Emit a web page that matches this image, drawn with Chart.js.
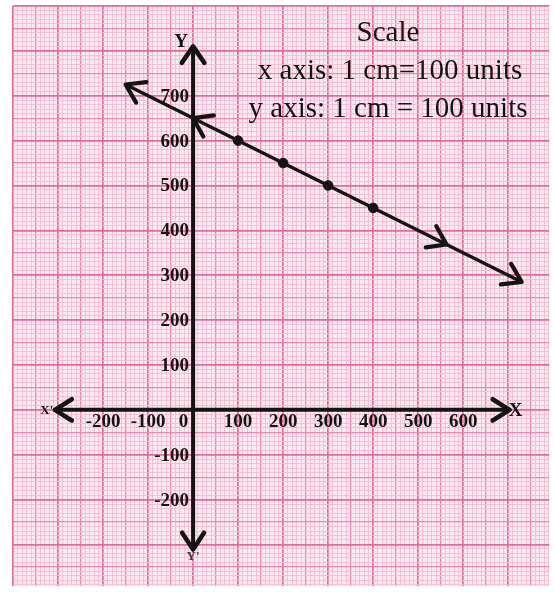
<!DOCTYPE html>
<html>
<head>
<meta charset="utf-8">
<script src="https://cdn.jsdelivr.net/npm/chart.js@4/dist/chart.umd.min.js"></script>
<style>
  html, body { margin: 0; padding: 0; background: #ffffff; overflow: hidden; }
  canvas { display: block; }
</style>
</head>
<body>
<canvas id="c" width="555" height="592"></canvas>
<script>
// ---- data ----
const pointX = [100, 200, 300, 400];
const pointY = [600, 550, 500, 450];
const lineX = [-150, 730];
const lineY = [725, 285];
const midArrowX = [0, 563];
const midArrowY = [650, 368.5];
const midArrowDir = [-1, 1];
const xTickLabels = [-200, -100, 100, 200, 300, 400, 500, 600];
const yTickLabels = [700, 600, 500, 400, 300, 200, 100, -100, -200];
const xAxisEnds = [-307, 703];
const yAxisEnds = [-311, 810];
const xRange = [-400, 791];
const yRange = [-393, 900];
const gridStep = 10;
const scaleText = ["Scale", "x axis: 1 cm=100 units", "y axis: 1 cm = 100 units"];

const SERIF = '"Liberation Serif", "Times New Roman", serif';
const INK = '#141414';

function gridColor(ctx) {
  const v = Math.round(ctx.tick.value);
  if (v % 100 === 0) return '#e8699a';
  if (v % 50 === 0) return '#ee88ae';
  return '#f5bcd1';
}
function gridWidth(ctx) {
  const v = Math.round(ctx.tick.value);
  if (v % 100 === 0) return 1.7;
  if (v % 50 === 0) return 1.3;
  return 0.9;
}
function buildTicks(scale, lo, hi) {
  const t = [];
  const start = Math.ceil(lo / gridStep) * gridStep;
  for (let v = start; v <= hi; v += gridStep) t.push({ value: v });
  scale.ticks = t;
}

function chevron(ctx, tx, ty, ang, len, half) {
  ctx.beginPath();
  ctx.moveTo(tx - len * Math.cos(ang - half), ty - len * Math.sin(ang - half));
  ctx.lineTo(tx, ty);
  ctx.lineTo(tx - len * Math.cos(ang + half), ty - len * Math.sin(ang + half));
  ctx.stroke();
}

const paperPlugin = {
  id: 'paper',
  beforeDraw(chart) {
    const { ctx, chartArea: a } = chart;
    ctx.save();
    ctx.fillStyle = '#ffffff';
    ctx.fillRect(0, 0, chart.width, chart.height);
    ctx.fillStyle = '#fce9f1';
    ctx.fillRect(a.left, a.top, a.right - a.left, a.bottom - a.top);
    ctx.restore();
  },
  beforeDatasetsDraw(chart) {
    const { ctx, scales: { x, y } } = chart;
    const x0 = x.getPixelForValue(0), y0 = y.getPixelForValue(0);
    ctx.save();
    ctx.strokeStyle = INK;
    ctx.lineWidth = 4;
    ctx.lineCap = 'round';
    ctx.lineJoin = 'round';
    const xl = x.getPixelForValue(xAxisEnds[0]), xr = x.getPixelForValue(xAxisEnds[1]);
    const yt = y.getPixelForValue(yAxisEnds[1]), yb = y.getPixelForValue(yAxisEnds[0]);
    ctx.beginPath();
    ctx.moveTo(xl, y0); ctx.lineTo(xr, y0);
    ctx.moveTo(x0, yb); ctx.lineTo(x0, yt);
    ctx.stroke();
    ctx.lineWidth = 4.5;
    chevron(ctx, xl, y0, Math.PI, 20, 0.56);
    chevron(ctx, xr, y0, 0, 20, 0.56);
    chevron(ctx, x0, yt, -Math.PI / 2, 20, 0.6);
    chevron(ctx, x0, yb, Math.PI / 2, 20, 0.58);

    // tick labels
    ctx.fillStyle = INK;
    ctx.font = 'bold 19px ' + SERIF;
    ctx.textAlign = 'center';
    ctx.textBaseline = 'middle';
    xTickLabels.forEach(v => ctx.fillText(String(v), x.getPixelForValue(v), y0 + 12));
    ctx.fillText('0', x0 - 9.5, y0 + 12);
    ctx.textAlign = 'right';
    yTickLabels.forEach(v => ctx.fillText(String(v), x0 - 4, y.getPixelForValue(v) + 1));

    // axis names
    ctx.textAlign = 'center';
    ctx.font = 'bold 19px ' + SERIF;
    ctx.fillText('Y', x0 - 12, yt - 4);
    ctx.fillText('X', xr + 6, y0 + 1);
    ctx.font = 'bold 13px ' + SERIF;
    ctx.fillText("X'", xl - 8, y0 + 1);
    ctx.fillStyle = '#3a3a3a';
    ctx.fillText("Y'", x0, yb + 7);
    ctx.fillStyle = INK;

    // scale text
    ctx.font = '29px ' + SERIF;
    ctx.textBaseline = 'alphabetic';
    ctx.fillText(scaleText[0], 388, 41);
    ctx.fillText(scaleText[1], 390, 79);
    ctx.fillText(scaleText[2], 388, 117);
    ctx.restore();
  },
  afterDatasetsDraw(chart) {
    const { ctx, scales: { x, y } } = chart;
    const p1 = { x: x.getPixelForValue(lineX[0]), y: y.getPixelForValue(lineY[0]) };
    const p2 = { x: x.getPixelForValue(lineX[1]), y: y.getPixelForValue(lineY[1]) };
    const ang = Math.atan2(p2.y - p1.y, p2.x - p1.x);
    ctx.save();
    ctx.strokeStyle = INK;
    ctx.lineWidth = 4.2;
    ctx.lineCap = 'round';
    ctx.lineJoin = 'round';
    chevron(ctx, p1.x, p1.y, ang + Math.PI, 21, 0.58);
    chevron(ctx, p2.x, p2.y, ang, 21, 0.58);
    midArrowX.forEach((mx, i) => {
      const px = x.getPixelForValue(mx), py = y.getPixelForValue(midArrowY[i]);
      chevron(ctx, px, py, midArrowDir[i] < 0 ? ang + Math.PI : ang, 21, 0.6);
    });
    ctx.restore();
  }
};

new Chart(document.getElementById('c'), {
  type: 'scatter',
  data: {
    datasets: [
      {
        data: lineX.map((v, i) => ({ x: v, y: lineY[i] })),
        showLine: true,
        borderColor: INK,
        borderWidth: 3.5,
        pointRadius: 0,
        fill: false
      },
      {
        data: pointX.map((v, i) => ({ x: v, y: pointY[i] })),
        pointRadius: 4.8,
        pointBackgroundColor: INK,
        pointBorderColor: INK,
        showLine: false
      }
    ]
  },
  options: {
    responsive: false,
    animation: false,
    events: [],
    layout: { padding: { left: 13, top: 6, right: 0, bottom: 0 } },
    plugins: { legend: { display: false }, tooltip: { enabled: false } },
    scales: {
      x: {
        type: 'linear', min: xRange[0], max: xRange[1],
        afterBuildTicks: s => buildTicks(s, xRange[0], xRange[1]),
        ticks: { display: false },
        border: { display: false },
        grid: { color: gridColor, lineWidth: gridWidth, drawTicks: false }
      },
      y: {
        type: 'linear', min: yRange[0], max: yRange[1],
        afterBuildTicks: s => buildTicks(s, yRange[0], yRange[1]),
        ticks: { display: false },
        border: { display: false },
        grid: { color: gridColor, lineWidth: gridWidth, drawTicks: false }
      }
    }
  },
  plugins: [paperPlugin]
});
</script>
</body>
</html>
